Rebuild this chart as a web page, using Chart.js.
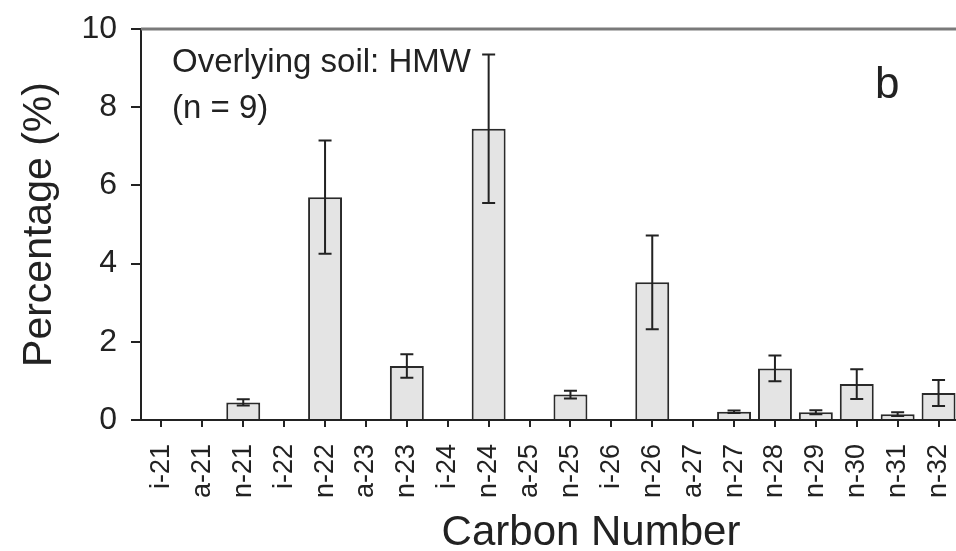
<!DOCTYPE html>
<html lang="en">
<head>
  <meta charset="UTF-8">
  <title>Carbon Number Distribution</title>
  <script src="https://cdn.jsdelivr.net/npm/chart.js"></script>
  <style>
    body {
      margin: 0;
      padding: 0;
      background: #ffffff;
      overflow: hidden;
    }
    canvas {
      display: block;
    }
  </style>
</head>
<body>
  <canvas id="carbonChart" width="960" height="551"></canvas>

  <script>
    // Carbon number categories (iso, anteiso, normal)
    const labels = ["i-21", "a-21", "n-21", "i-22", "n-22", "a-23", "n-23", "i-24", "n-24", "a-25",
                    "n-25", "i-26", "n-26", "a-27", "n-27", "n-28", "n-29", "n-30", "n-31", "n-32"];

    // Mean percentage for each compound
    const percentages = [0, 0, 0.45, 0, 5.7, 0, 1.38, 0, 7.45, 0,
                         0.65, 0, 3.52, 0, 0.21, 1.32, 0.2, 0.92, 0.15, 0.69];

    // Standard deviation (error bars)
    const deviations = [0, 0, 0.08, 0, 1.45, 0, 0.3, 0, 1.9, 0,
                        0.1, 0, 1.2, 0, 0.03, 0.33, 0.05, 0.38, 0.05, 0.33];

    const yTicks = [0, 2, 4, 6, 8, 10];

    const FONT = "'Liberation Sans', Arial, sans-serif";
    const INK = "#222222";

    // Error bars drawn on top of each bar
    const errorBars = {
      id: "errorBars",
      afterDatasetsDraw(chart) {
        const ctx = chart.ctx;
        const yScale = chart.scales.y;
        const meta = chart.getDatasetMeta(0);
        ctx.save();
        ctx.strokeStyle = INK;
        ctx.lineWidth = 2;
        meta.data.forEach((bar, i) => {
          const v = percentages[i];
          const e = deviations[i];
          if (!v || !e) return;
          const top = yScale.getPixelForValue(v + e);
          const bottom = yScale.getPixelForValue(v - e);
          const cap = 6.5;
          ctx.beginPath();
          ctx.moveTo(bar.x, top);
          ctx.lineTo(bar.x, bottom);
          ctx.moveTo(bar.x - cap, top);
          ctx.lineTo(bar.x + cap, top);
          ctx.moveTo(bar.x - cap, bottom);
          ctx.lineTo(bar.x + cap, bottom);
          ctx.stroke();
        });
        ctx.restore();
      }
    };

    // Top frame line, panel notes and x axis caption
    const annotations = {
      id: "annotations",
      afterDraw(chart) {
        const ctx = chart.ctx;
        const area = chart.chartArea;
        ctx.save();

        ctx.strokeStyle = "#7a7a7a";
        ctx.lineWidth = 3;
        ctx.beginPath();
        ctx.moveTo(area.left, area.top);
        ctx.lineTo(area.right, area.top);
        ctx.stroke();

        ctx.fillStyle = INK;
        ctx.textBaseline = "alphabetic";
        ctx.textAlign = "left";
        ctx.font = "33px " + FONT;
        ctx.fillText("Overlying soil: HMW", area.left + 31, area.top + 43);
        ctx.fillText("(n = 9)", area.left + 31, area.top + 89);

        ctx.font = "44px " + FONT;
        ctx.fillText("b", area.right - 84, area.top + 69);

        ctx.font = "42px " + FONT;
        ctx.textAlign = "center";
        ctx.fillText("Carbon Number", 591, 545);
        ctx.restore();
      }
    };

    new Chart(document.getElementById("carbonChart"), {
      type: "bar",
      data: {
        labels: labels,
        datasets: [{
          data: percentages,
          backgroundColor: "#e4e4e4",
          borderColor: "#2a2a2a",
          borderWidth: 2,
          borderSkipped: "bottom",
          barPercentage: 0.83,
          categoryPercentage: 1.0
        }]
      },
      options: {
        responsive: false,
        animation: false,
        layout: {
          padding: { top: 29, right: 1, left: 0, bottom: 0 }
        },
        plugins: {
          legend: { display: false },
          tooltip: { enabled: false }
        },
        scales: {
          x: {
            offset: true,
            afterFit(scale) {
              scale.height = 131;
              scale.paddingLeft = 0;
              scale.paddingRight = 0;
            },
            grid: {
              offset: false,
              drawOnChartArea: false,
              drawTicks: true,
              tickLength: 7,
              color: INK,
              lineWidth: 2
            },
            border: { color: INK, width: 2 },
            ticks: {
              autoSkip: false,
              minRotation: 90,
              maxRotation: 90,
              padding: 17,
              color: INK,
              font: { family: FONT, size: 27 }
            }
          },
          y: {
            min: 0,
            max: 10,
            afterFit(scale) {
              scale.width = 141;
              scale.paddingTop = 0;
              scale.paddingBottom = 0;
            },
            afterBuildTicks(scale) {
              scale.ticks = yTicks.map(v => ({ value: v }));
            },
            grid: {
              drawOnChartArea: false,
              drawTicks: true,
              tickLength: 10,
              color: INK,
              lineWidth: 2
            },
            border: { color: INK, width: 2 },
            ticks: {
              padding: 14,
              color: INK,
              font: { family: FONT, size: 32 }
            },
            title: {
              display: true,
              text: "Percentage (%)",
              color: INK,
              padding: { top: 15, bottom: 0 },
              font: { family: FONT, size: 41 }
            }
          }
        }
      },
      plugins: [errorBars, annotations]
    });
  </script>
</body>
</html>
